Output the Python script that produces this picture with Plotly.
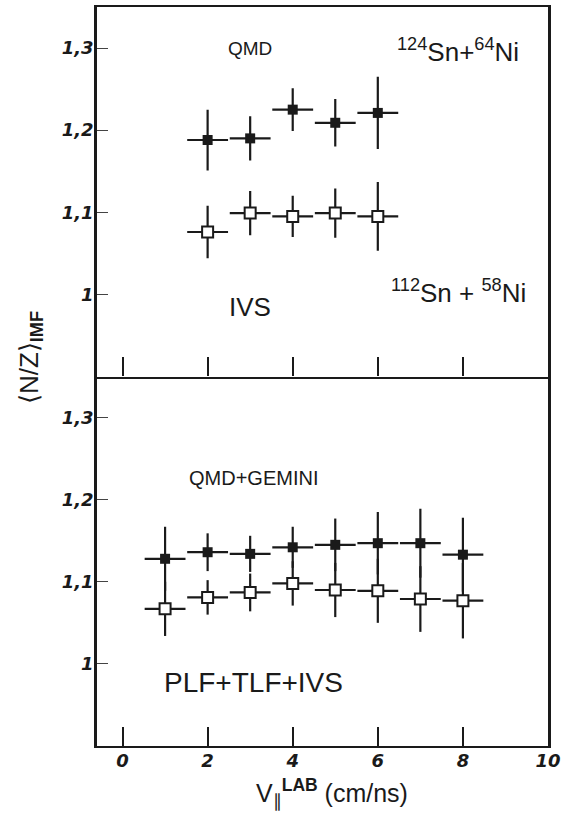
import plotly.graph_objects as go
from plotly.subplots import make_subplots

# Parallel velocity bins (cm/ns)
v_qmd = [2, 3, 4, 5, 6]
v_gem = [1, 2, 3, 4, 5, 6, 7, 8]
bin_half = 0.48

# QMD: <N/Z> of IMFs
nz_qmd_124 = [1.188, 1.190, 1.225, 1.209, 1.221]
err_qmd_124 = [0.037, 0.027, 0.026, 0.029, 0.044]
nz_qmd_112 = [1.076, 1.099, 1.095, 1.099, 1.095]
err_qmd_112 = [0.032, 0.027, 0.025, 0.030, 0.042]

# QMD+GEMINI: <N/Z> of IMFs
nz_gem_124 = [1.128, 1.136, 1.134, 1.142, 1.145, 1.147, 1.147, 1.133]
err_gem_124 = [0.039, 0.023, 0.022, 0.025, 0.032, 0.038, 0.042, 0.045]
nz_gem_112 = [1.067, 1.081, 1.087, 1.098, 1.090, 1.089, 1.079, 1.077]
err_gem_112 = [0.033, 0.021, 0.023, 0.027, 0.033, 0.039, 0.040, 0.046]

y_ticks = [1.0, 1.1, 1.2, 1.3]
y_tick_text = ["1", "1,1", "1,2", "1,3"]
x_ticks = [0, 2, 4, 6, 8, 10]
x_tick_text = ["0", "2", "4", "6", "8", "10"]

INK = "#1a1a1a"
FONT = "Liberation Sans"
TICK_FONT = "DejaVu Sans"

fig = make_subplots(rows=2, cols=1, shared_xaxes=True, vertical_spacing=0)


def add_series(row, x, y, err, filled):
    fig.add_trace(
        go.Scatter(
            x=x, y=y, mode="markers",
            error_y=dict(type="data", array=err, visible=True,
                         color=INK, thickness=2.2, width=0),
            error_x=dict(type="constant", value=bin_half, visible=True,
                         color=INK, thickness=2.2, width=0),
            marker=dict(symbol="square", size=10 if filled else 11,
                        color=INK if filled else "white",
                        line=dict(color=INK, width=0 if filled else 2)),
            showlegend=False, cliponaxis=False,
        ),
        row=row, col=1,
    )


add_series(1, v_qmd, nz_qmd_112, err_qmd_112, False)
add_series(1, v_qmd, nz_qmd_124, err_qmd_124, True)
add_series(2, v_gem, nz_gem_112, err_gem_112, False)
add_series(2, v_gem, nz_gem_124, err_gem_124, True)

y_tick_font = dict(family=TICK_FONT, size=18, color=INK, weight="bold", style="italic")
x_tick_font = dict(family=TICK_FONT, size=18, color=INK, weight="bold", style="italic")

for row in (1, 2):
    fig.update_xaxes(
        row=row, col=1, range=[-0.6, 10], tickvals=x_ticks, ticktext=x_tick_text,
        ticks="inside", ticklen=19, tickwidth=1.5, tickcolor=INK,
        showline=True, linecolor=INK, linewidth=2.2, mirror=(row == 1),
        showgrid=False, zeroline=False, tickfont=x_tick_font,
        showticklabels=(row == 2), ticklabelstandoff=-3,
    )
    fig.update_yaxes(
        row=row, col=1, range=[0.9, 1.35], tickvals=y_ticks, ticktext=y_tick_text,
        ticks="inside", ticklen=11, tickwidth=1, tickcolor="#444",
        showline=True, linecolor=INK, linewidth=2.5, mirror=True,
        showgrid=False, zeroline=False, tickfont=y_tick_font,
        ticklabelstandoff=-3,
    )

labels = [
    ("x", "y", 3.0, 1.300, "QMD", 19),
    ("x", "y", 7.88, 1.297, "<sup>124</sup>Sn+<sup>64</sup>Ni", 26),
    ("x", "y", 7.9, 1.004, "<sup>112</sup>Sn + <sup>58</sup>Ni", 26),
    ("x", "y", 2.99, 0.985, "IVS", 26),
    ("x2", "y2", 3.08, 1.226, "QMD+GEMINI", 20),
    ("x2", "y2", 3.08, 0.977, "PLF+TLF+IVS", 28),
]
for xr, yr, x, y, text, size in labels:
    fig.add_annotation(xref=xr, yref=yr, x=x, y=y, text=text, showarrow=False,
                       font=dict(family=FONT, size=size, color=INK))

fig.add_annotation(
    xref="paper", yref="paper", x=-0.149, y=0.526, xanchor="center", yanchor="middle",
    text="\u27e8N/Z\u27e9<sub><b>IMF</b></sub>", textangle=-90, showarrow=False,
    font=dict(family=FONT, size=26, color=INK),
)
fig.add_annotation(
    xref="paper", yref="paper", x=0.521, y=-0.064, xanchor="center", yanchor="middle",
    text="V<sub>\u2225</sub><sup><b>LAB</b></sup> (cm/ns)", showarrow=False,
    font=dict(family=FONT, size=25, color=INK),
)

fig.update_layout(
    width=575, height=819,
    margin=dict(l=97, r=27, t=5, b=73),
    paper_bgcolor="white", plot_bgcolor="white",
    font=dict(family=FONT, color=INK),
)

fig.write_html("out.html")
